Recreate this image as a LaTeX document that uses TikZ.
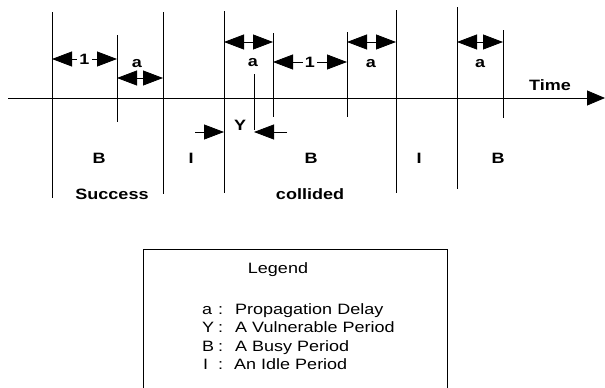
\documentclass[tikz,border=0pt]{standalone}
\usepackage{fontspec}
\setmainfont{Liberation Sans}[FakeStretch=1.2]
\usetikzlibrary{arrows.meta}
\begin{document}
\begin{tikzpicture}[x=1pt,y=-1pt,
  rule/.style={line width=0.8pt},
  dim/.style={rule,{Triangle[length=20pt,width=15pt]}-{Triangle[length=20pt,width=15pt]}},
  oneway/.style={rule,-{Triangle[length=20pt,width=15pt]}},
  lbl/.style={font=\fontsize{15}{18}\selectfont\bfseries,inner sep=0pt,anchor=base},
  gaplbl/.style={font=\fontsize{15}{18}\selectfont\bfseries,fill=white,inner sep=2pt},
  legtxt/.style={font=\fontsize{15}{18}\selectfont,inner sep=0pt,anchor=base west}]
\useasboundingbox (0,0) rectangle (605,388);

% time axis
\coordinate (t0) at (8,98);
\coordinate (t1) at (605,98);
\draw[rule,-{Triangle[length=18pt,width=15pt]}] (t0) -- (t1);
\node[lbl] (time) at (550,90) {Time};

% period boundaries
\foreach \n/\x/\ya/\yb in {1/52/12/198, 2/117/35/122, 3/163/12/194, 4/224/11/193,
    5/254/74/130, 6/273/33/117, 7/347/32/117, 8/396/10/193, 9/457/7/189, 10/503/30/118}{
  \coordinate (v\n t) at (\x,\ya);
  \coordinate (v\n b) at (\x,\yb);
  \draw[rule] (v\n t) -- (v\n b);
}

% dimension arrows between boundaries
\coordinate (d1a) at (52,59);  \coordinate (d1b) at (117,59);
\coordinate (d2a) at (117,78); \coordinate (d2b) at (163,78);
\coordinate (d3a) at (224,42); \coordinate (d3b) at (273,42);
\coordinate (d4a) at (273,62); \coordinate (d4b) at (347,62);
\coordinate (d5a) at (347,42); \coordinate (d5b) at (396,42);
\coordinate (d6a) at (457,42); \coordinate (d6b) at (503,42);
\draw[dim] (d1a) -- node[gaplbl] (one1) {1} (d1b);
\draw[dim] (d2a) -- (d2b);
\draw[dim] (d3a) -- (d3b);
\draw[dim] (d4a) -- node[gaplbl,pos=0.5] (one2) {1} (d4b);
\draw[dim] (d5a) -- (d5b);
\draw[dim] (d6a) -- (d6b);
\node[lbl] (a1) at (137,67) {a};
\node[lbl] (a2) at (253,66) {a};
\node[lbl] (a3) at (371,67) {a};
\node[lbl] (a4) at (480,67) {a};

% vulnerable period
\coordinate (y1s) at (195,132); \coordinate (y1e) at (224,132);
\coordinate (y2s) at (287,132); \coordinate (y2e) at (254,132);
\draw[oneway] (y1s) -- (y1e);
\draw[oneway] (y2s) -- (y2e);
\node[lbl] (ylab) at (240,130) {Y};

% period names
\node[lbl] (b1) at (99,163) {B};
\node[lbl] (succ) at (112,199) {Success};
\node[lbl] (i1) at (191,163) {I};
\node[lbl] (b2) at (311,163) {B};
\node[lbl] (coll) at (310,199) {collided};
\node[lbl] (i2) at (419,163) {I};
\node[lbl] (b3) at (498,163) {B};

% legend
\coordinate (lg1) at (143,395); \coordinate (lg2) at (143,249);
\coordinate (lg3) at (447,249); \coordinate (lg4) at (447,395);
\draw[rule] (lg1) -- (lg2) -- (lg3) -- (lg4);
\node[font=\fontsize{15}{18}\selectfont,inner sep=0pt,anchor=base] (legend) at (278,273) {Legend};
\node[legtxt] (la) at (202,314) {\makebox[16pt][l]{a}\makebox[17pt][l]{:}Propagation Delay};
\node[legtxt] (ly) at (202,332.5) {\makebox[16pt][l]{Y}\makebox[17pt][l]{:}A Vulnerable Period};
\node[legtxt] (lb) at (202,351) {\makebox[16pt][l]{B}\makebox[17pt][l]{:}A Busy Period};
\node[legtxt] (li) at (203,369.5) {\makebox[15pt][l]{I}\makebox[16pt][l]{:}An Idle Period};
\end{tikzpicture}
\end{document}
